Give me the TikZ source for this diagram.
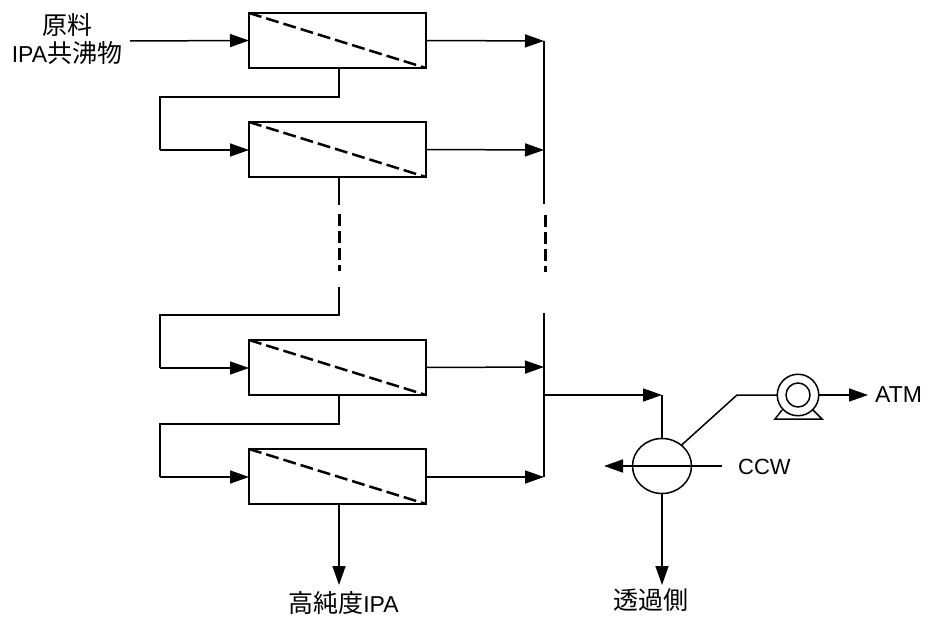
\documentclass[tikz,border=0pt]{standalone}
\usepackage{fontspec}
\setmainfont{Liberation Sans}
\newfontfamily\cjkf{Noto Sans CJK JP}
\usetikzlibrary{arrows.meta,shapes.geometric}
\newcommand{\cjt}[1]{{\cjkf\fontsize{25}{28}\selectfont #1}}
\tikzset{
  x=1pt,y=-1pt,
  line/.style={line width=1.5pt,black},
  flow/.style={line,-{Triangle[length=19pt,width=13pt]},shorten >=0pt},
  membrane/.style={draw,line width=1.5pt,minimum width=177pt,minimum height=55pt,inner sep=0,outer sep=0},
  sep/.style={line width=2.5pt,dash pattern=on 13pt off 5pt},
  gap/.style={line width=3pt,dash pattern=on 12pt off 5pt on 12pt off 5pt on 12pt off 5pt on 6pt},
  lbl/.style={font=\fontsize{23}{28}\selectfont,inner sep=0,align=center,text=black}
}
\begin{document}
\begin{tikzpicture}
\useasboundingbox (0,0) rectangle (925,617);
\fill[white] (0,0) rectangle (925,617);
% membrane modules
\node[membrane] (m1) at (337.5,40.5) {};
\node[membrane] (m2) at (337.5,149.5) {};
\node[membrane] (m3) at (337.5,367.5) {};
\node[membrane] (m4) at (337.5,476.5) {};
\foreach \m in {m1,m2,m3,m4}{\draw[sep] (\m.north west) -- (\m.south east);}
% labels
\node[lbl] (feed) at (67,39) {\cjt{原料}\\IPA\cjt{共沸物}};
\node[lbl] (prod) at (343.5,603) {\cjt{高純度}IPA};
\node[lbl] (perm) at (651,600) {\cjt{透過側}};
\node[lbl,anchor=west,font=\fontsize{22}{26}\selectfont] (ccw) at (738,467) {CCW};
\node[lbl,anchor=west] (atm) at (875,395) {ATM};
% coordinates
\coordinate (feedS) at (130,41);
\coordinate (hTop) at (544,41);
\coordinate (h2) at (544,150);
\coordinate (hA) at (544,204);
\coordinate (hC) at (544,313);
\coordinate (h3) at (544,367);
\coordinate (hOut) at (544,395);
\coordinate (h4) at (544,477);
\coordinate (dA) at (545,215);
\coordinate (dB) at (545,272);
\coordinate (a1) at (339,97);
\coordinate (b1) at (160,97);
\coordinate (c1) at (160,150);
\coordinate (vA) at (339,205);
\coordinate (wA) at (339,214);
\coordinate (wB) at (339,271);
\coordinate (vC) at (339,287);
\coordinate (a2) at (339,315);
\coordinate (b2) at (160,315);
\coordinate (c2) at (160,368);
\coordinate (a3) at (339,424);
\coordinate (b3) at (160,424);
\coordinate (c3) at (160,477);
\coordinate (cTop) at (662,395);
\coordinate (cBot) at (662,585);
\coordinate (cwIn) at (722,466);
\coordinate (cwOut) at (604,466);
\coordinate (bend) at (737,395);
\coordinate (prodT) at (339,585);
\coordinate (atmT) at (868,395);
% condenser and pump
\node[draw,line,ellipse,minimum width=59pt,minimum height=55pt,inner sep=0,outer sep=0] (cond) at (662,466) {};
\node[draw,line,circle,minimum size=41.5pt,inner sep=0,outer sep=0] (pump) at (798,395) {};
\node[draw,line,circle,minimum size=24pt,inner sep=0,outer sep=0] (pumpin) at (pump) {};
\draw[line,line join=miter] (782,410) -- (775,419) -- (822,419) -- (813,410);
% flows
\draw[flow] (feedS) -- (m1.west);
\draw[flow] (m1.east) -- (hTop);
\draw[flow] (m2.east) -- (h2);
\draw[flow] (m3.east) -- (h3);
\draw[flow] (m4.east |- h4) -- (h4);
\draw[line] (a1 |- m1.south) -- (a1) -- (b1) -- (c1);
\draw[flow] (c1) -- (m2.west |- c1);
\draw[line] (vC) -- (a2) -- (b2) -- (c2);
\draw[flow] (c2) -- (m3.west |- c2);
\draw[line] (a3 |- m3.south) -- (a3) -- (b3) -- (c3);
\draw[flow] (c3) -- (m4.west |- c3);
\draw[flow] (a3 |- m4.south) -- (prodT);
\draw[line] (a1 |- m2.south) -- (vA);
\draw[gap] (wA) -- (wB);
\draw[line] (hTop) -- (hA);
\draw[gap] (dA) -- (dB);
\draw[line] (hC) -- (h4);
\draw[flow] (hOut) -- (cTop);
\draw[line] (cTop) -- (cond.north);
\draw[flow] (cond.south) -- (cBot);
\draw[flow] (cwIn) -- (cwOut);
\draw[line] (cond.47) -- (bend) -- (pump.west);
\draw[flow] (pump.east) -- (atmT);
\end{tikzpicture}
\end{document}
